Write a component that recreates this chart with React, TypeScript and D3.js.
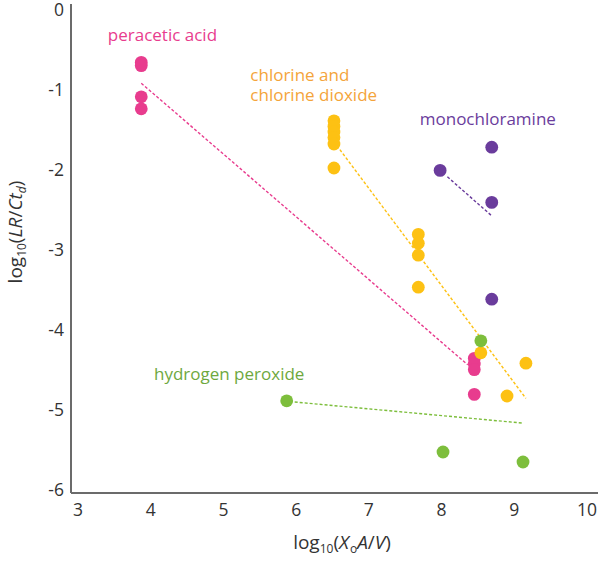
import React from "react";
import * as d3 from "d3";

// ---- data ----
const peraceticX = [3.87, 3.87, 3.87, 3.87, 8.45, 8.45, 8.45, 8.45];
const peraceticY = [-0.68, -0.72, -1.11, -1.26, -4.38, -4.45, -4.52, -4.83];
const peraceticFit = [[3.87, -0.94], [8.36, -4.46]];

const chlorineX = [6.52, 6.52, 6.52, 6.52, 6.52, 6.52, 7.68, 7.68, 7.68, 7.68, 8.54, 9.16, 8.9];
const chlorineY = [-1.41, -1.48, -1.55, -1.62, -1.70, -2.0, -2.83, -2.94, -3.09, -3.49, -4.31, -4.44, -4.85];
const chlorineFit = [[6.56, -1.72], [9.16, -4.88]];

const monoX = [7.98, 8.69, 8.69, 8.69];
const monoY = [-2.03, -1.74, -2.43, -3.64];
const monoFit = [[8.08, -2.11], [8.68, -2.59]];

const h2o2X = [5.87, 8.54, 8.02, 9.12];
const h2o2Y = [-4.91, -4.16, -5.55, -5.675];
const h2o2Fit = [[5.98, -4.925], [9.13, -5.19]];

const xTicks = [3, 4, 5, 6, 7, 8, 9, 10];
const yTicks = [0, -1, -2, -3, -4, -5, -6];

const series = [
  { name: "peracetic acid", xs: peraceticX, ys: peraceticY, fit: peraceticFit, color: "#E83C8E", text: "#E83C8E", lines: ["peracetic acid"], lx: 3.41, ly: -0.41 },
  { name: "chlorine", xs: chlorineX, ys: chlorineY, fit: chlorineFit, color: "#FDC113", text: "#F4A43A", lines: ["chlorine and", "chlorine dioxide"], lx: 5.37, ly: -0.91 },
  { name: "monochloramine", xs: monoX, ys: monoY, fit: monoFit, color: "#6A3C9C", text: "#6A3C9C", lines: ["monochloramine"], lx: 7.70, ly: -1.46 },
  { name: "hydrogen peroxide", xs: h2o2X, ys: h2o2Y, fit: h2o2Fit, color: "#7DBE3C", text: "#6EA83E", lines: ["hydrogen peroxide"], lx: 4.045, ly: -4.65 },
];

export default function App() {
  const W = 600, H = 562;
  const x = d3.scaleLinear().domain([3, 10]).range([78, 587]);
  const y = d3.scaleLinear().domain([0, -6]).range([8, 488]);
  const axisX0 = 71, axisY0 = 493;
  const line = d3.line<number[]>().x(d => x(d[0])).y(d => y(d[1]));
  const font = "'Open Sans', sans-serif";
  return (
    <svg width={W} height={H} style={{ position: "absolute", left: 0, top: 0, background: "#fff" }} fontFamily={font}>
      {/* axes */}
      <line x1={axisX0} y1={4} x2={axisX0} y2={axisY0} stroke="#6b6b6b" strokeWidth={2} />
      <line x1={axisX0} y1={axisY0} x2={598} y2={axisY0} stroke="#6b6b6b" strokeWidth={2} />
      {yTicks.map(t => (
        <text key={"y" + t} x={64} y={y(t) + 2} dy="0.36em" textAnchor="end" fontSize={17.5} fill="#333">{t}</text>
      ))}
      {xTicks.map(t => (
        <text key={"x" + t} x={x(t)} y={516} textAnchor="middle" fontSize={17.5} fill="#333">{t}</text>
      ))}
      {/* axis titles */}
      <text x={342} y={549} textAnchor="middle" fontSize={19} fill="#333">
        log<tspan fontSize={12} dy={4}>10</tspan><tspan dy={-4}>(</tspan><tspan fontStyle="italic">X</tspan><tspan fontSize={12} dy={4} dx={1}>o</tspan><tspan dy={-4} fontStyle="italic">A</tspan>/<tspan fontStyle="italic">V</tspan>)
      </text>
      <text transform="translate(22,232) rotate(-90)" textAnchor="middle" fontSize={19} fill="#333">
        log<tspan fontSize={12} dy={4}>10</tspan><tspan dy={-4}>(</tspan><tspan fontStyle="italic">LR</tspan>/<tspan fontStyle="italic">Ct</tspan><tspan fontSize={12} dy={4} fontStyle="italic">d</tspan><tspan dy={-4}>)</tspan>
      </text>
      {/* fits */}
      {series.map(s => (
        <path key={s.name + "fit"} d={line(s.fit) || ""} stroke={s.color} strokeWidth={1.4} strokeDasharray="3,2" fill="none" />
      ))}
      {/* points */}
      {series.map(s => (
        <g key={s.name + "pts"}>
          {s.xs.map((v, i) => (
            <circle key={i} cx={x(v)} cy={y(s.ys[i])} r={6.4} fill={s.color} />
          ))}
        </g>
      ))}
      {/* labels */}
      {series.map(s => (
        <text key={s.name + "lab"} x={x(s.lx)} y={y(s.ly)} fontSize={17} fill={s.text}>
          {s.lines.map((l, i) => (
            <tspan key={i} x={x(s.lx)} dy={i === 0 ? 0 : 20}>{l}</tspan>
          ))}
        </text>
      ))}
    </svg>
  );
}
